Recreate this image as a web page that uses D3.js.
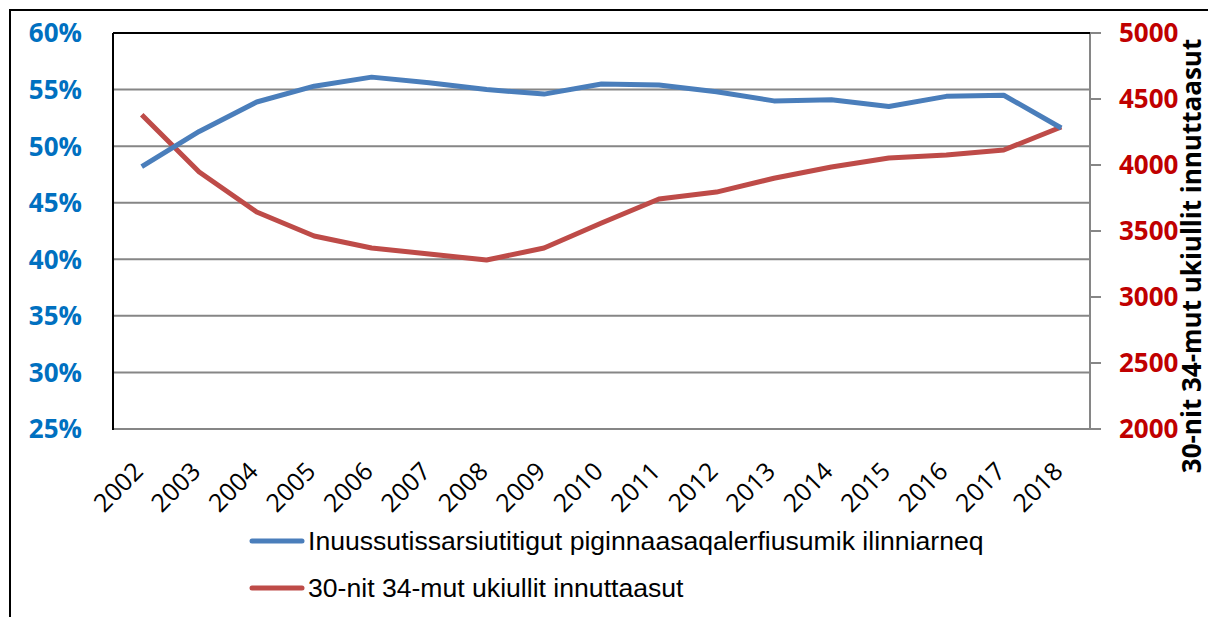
<!DOCTYPE html>
<meta charset="utf-8">
<style>
    body { margin: 0; background: #fff; }
    .grid line { stroke: #868686; stroke-width: 2px; }
    .yl text { fill: #0070C0; font: bold 26px "Open Sans", sans-serif; }
    .yr text { fill: #C00000; font: bold 26px "Open Sans", sans-serif; }
    .xl text { fill: #000; font: 25px "Open Sans", sans-serif; }
    .legend text { font: 26.6px "Liberation Sans", Arial, sans-serif; fill: #000; }
</style>
<svg width="1208" height="617"></svg>
<script src="https://cdn.jsdelivr.net/npm/d3@7"></script>
<script>
    // data
    var years = ["2002", "2003", "2004", "2005", "2006", "2007", "2008", "2009", "2010",
        "2011", "2012", "2013", "2014", "2015", "2016", "2017", "2018"];
    var shareValues = [48.2, 51.3, 53.9, 55.3, 56.1, 55.6, 55.0, 54.6, 55.5,
        55.4, 54.8, 54.0, 54.1, 53.5, 54.4, 54.5, 51.6];
    var popValues = [4380, 3947, 3644, 3462, 3371, 3326, 3280, 3371, 3560,
        3742, 3795, 3900, 3985, 4053, 4076, 4114, 4288];
    var leftTicks = [25, 30, 35, 40, 45, 50, 55, 60];
    var rightTicks = [2000, 2500, 3000, 3500, 4000, 4500, 5000];
    var seriesNames = ["Inuussutissarsiutitigut piginnaasaqalerfiusumik ilinniarneq",
        "30-nit 34-mut ukiullit innuttaasut"];
    var axisTitle = "30-nit 34-mut ukiullit innuttaasut";

    var svg = d3.select("svg");
    var plotLeft = 113, plotRight = 1090, plotTop = 33, plotBottom = 429;

    // outer frame (only top and left visible)
    svg.append("path").attr("d", "M10,617V10H1208").attr("fill", "none")
        .attr("stroke", "#000").attr("stroke-width", 2);

    var x = d3.scaleBand().domain(years).range([plotLeft, plotRight]);
    var yL = d3.scaleLinear().domain([25, 60]).range([plotBottom, plotTop]);
    var yR = d3.scaleLinear().domain([2000, 5000]).range([plotBottom, plotTop]);

    // gridlines
    svg.append("g").attr("class", "grid").selectAll("line")
        .data(leftTicks.slice(1, -1)).enter().append("line")
        .attr("x1", plotLeft).attr("x2", plotRight)
        .attr("y1", function (d) { return yL(d); }).attr("y2", function (d) { return yL(d); });

    // right axis ticks
    svg.append("g").selectAll("line").data(rightTicks).enter().append("line")
        .attr("x1", plotRight).attr("x2", plotRight + 11)
        .attr("y1", function (d) { return yR(d); }).attr("y2", function (d) { return yR(d); })
        .attr("stroke", "#868686").attr("stroke-width", 2);

    // frame of plot area
    svg.append("line").attr("x1", plotLeft).attr("x2", plotRight + 4)
        .attr("y1", plotBottom).attr("y2", plotBottom)
        .attr("stroke", "#868686").attr("stroke-width", 2);
    svg.append("line").attr("x1", plotRight).attr("x2", plotRight)
        .attr("y1", plotTop).attr("y2", plotBottom)
        .attr("stroke", "#868686").attr("stroke-width", 2);
    svg.append("line").attr("x1", plotLeft).attr("x2", plotRight)
        .attr("y1", plotTop).attr("y2", plotTop)
        .attr("stroke", "#000").attr("stroke-width", 2);
    svg.append("line").attr("x1", plotLeft).attr("x2", plotLeft)
        .attr("y1", plotTop).attr("y2", plotBottom + 1)
        .attr("stroke", "#000").attr("stroke-width", 2);

    // left tick labels
    svg.append("g").attr("class", "yl").selectAll("text").data(leftTicks).enter().append("text")
        .attr("x", 82).attr("y", function (d) { return yL(d); }).attr("dy", "0.36em")
        .attr("text-anchor", "end").text(function (d) { return d + "%"; });

    // right tick labels
    svg.append("g").attr("class", "yr").selectAll("text").data(rightTicks).enter().append("text")
        .attr("x", 1119).attr("y", function (d) { return yR(d); }).attr("dy", "0.36em")
        .attr("text-anchor", "start").text(function (d) { return d; });

    // right axis title
    svg.append("text").attr("transform", "translate(1201,256) rotate(-90)")
        .attr("text-anchor", "middle")
        .style("font", "bold 26px 'Open Sans', sans-serif")
        .text(axisTitle);

    // x labels
    svg.append("g").attr("class", "xl").selectAll("text").data(years).enter().append("text")
        .attr("transform", function (d) {
            return "translate(" + (x(d) + x.bandwidth() / 2 + 3) + ",473) rotate(-45)";
        })
        .attr("text-anchor", "end").text(function (d) { return d; });

    var cx = function (d, i) { return x(years[i]) + x.bandwidth() / 2; };

    var lineL = d3.line().x(cx).y(function (d) { return yL(d); });
    var lineR = d3.line().x(cx).y(function (d) { return yR(d); });

    svg.append("path").datum(popValues).attr("d", lineR).attr("fill", "none")
        .attr("stroke", "#BE4B48").attr("stroke-width", 5).attr("stroke-linejoin", "round");
    svg.append("path").datum(shareValues).attr("d", lineL).attr("fill", "none")
        .attr("stroke", "#4A7EBB").attr("stroke-width", 5).attr("stroke-linejoin", "round");

    // legend
    var colors = ["#4A7EBB", "#BE4B48"];
    var legend = svg.append("g").attr("class", "legend").selectAll("g")
        .data(seriesNames).enter().append("g")
        .attr("transform", function (d, i) { return "translate(250," + (541 + i * 47) + ")"; });
    legend.append("line").attr("x1", 2).attr("x2", 52)
        .attr("stroke", function (d, i) { return colors[i]; })
        .attr("stroke-width", 5).attr("stroke-linecap", "round");
    legend.append("text").attr("x", 58).attr("dy", "0.35em").text(function (d) { return d; });
</script>
